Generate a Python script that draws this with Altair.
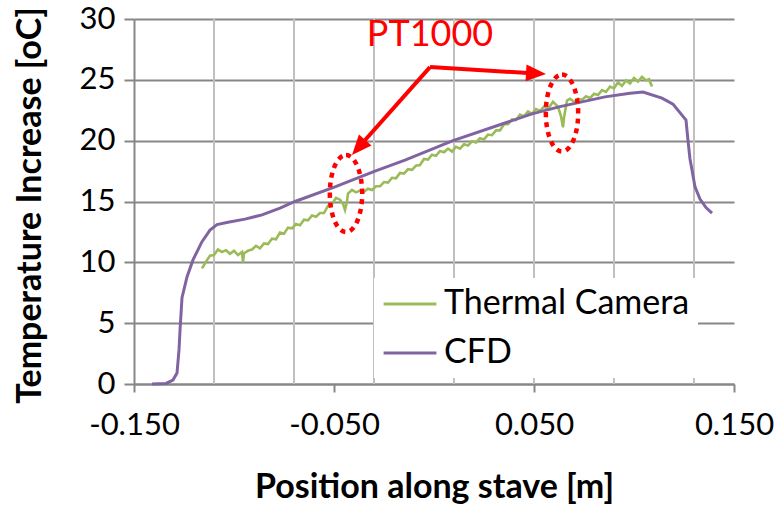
import altair as alt
import pandas as pd

# ---------------- data ----------------
cam_x = [-0.116, -0.114, -0.112, -0.110, -0.108, -0.106, -0.104, -0.102, -0.100, -0.098,
         -0.096, -0.0955, -0.095, -0.093, -0.091, -0.089, -0.087, -0.085, -0.083, -0.081,
         -0.079, -0.077, -0.075, -0.073, -0.071, -0.069, -0.067, -0.065, -0.063, -0.061,
         -0.059, -0.057, -0.055, -0.053, -0.051, -0.049, -0.047, -0.0455, -0.0445, -0.0435,
         -0.043, -0.041, -0.039, -0.037, -0.035, -0.033, -0.031, -0.029, -0.027, -0.025,
         -0.023, -0.021, -0.019, -0.017, -0.015, -0.013, -0.011, -0.009, -0.007, -0.005,
         -0.003, -0.001, 0.001, 0.003, 0.005, 0.007, 0.009, 0.011, 0.013, 0.015,
         0.017, 0.019, 0.021, 0.023, 0.025, 0.027, 0.029, 0.031, 0.033, 0.035,
         0.037, 0.039, 0.041, 0.043, 0.045, 0.047, 0.049, 0.051, 0.053, 0.055,
         0.057, 0.0595, 0.062, 0.0635, 0.0645, 0.065, 0.0665, 0.068, 0.0705, 0.072,
         0.074, 0.076, 0.078, 0.080, 0.082, 0.084, 0.086, 0.088, 0.090, 0.092,
         0.094, 0.096, 0.098, 0.100, 0.102, 0.104, 0.106, 0.1075, 0.109]
cam_y = [9.5, 10.05, 10.55, 10.6, 11.05, 10.85, 11.0, 10.7, 10.95, 10.6,
         10.85, 10.0, 10.75, 10.95, 11.05, 11.35, 11.15, 11.55, 11.5, 11.95,
         11.9, 12.45, 12.35, 12.85, 12.8, 13.15, 13.05, 13.5, 13.45, 13.85,
         13.75, 14.05, 14.05, 14.65, 14.8, 15.3, 15.15, 14.8, 14.3, 15.0,
         15.65, 15.95, 15.75, 15.9, 15.8, 16.05, 15.95, 16.25, 16.25, 16.6,
         16.55, 16.95, 16.9, 17.35, 17.3, 17.65, 17.6, 17.95, 18.0, 18.5,
         18.45, 18.85, 18.75, 19.15, 19.05, 19.35, 19.1, 19.5, 19.35, 19.7,
         19.6, 19.95, 19.85, 20.2, 20.1, 20.5, 20.45, 20.85, 20.85, 21.35,
         21.35, 21.75, 21.7, 22.15, 22.0, 22.4, 22.2, 22.6, 22.45, 22.8,
         22.6, 23.2, 22.8, 22.0, 21.1, 21.9, 23.3, 23.45, 23.15, 23.45,
         23.35, 23.65, 23.5, 23.85, 23.75, 24.15, 24.0, 24.45, 24.3, 24.8,
         24.5, 24.95, 24.7, 25.15, 24.85, 25.25, 24.95, 25.05, 24.45]

cfd_x = [-0.141, -0.134, -0.1305, -0.1285, -0.1275, -0.127, -0.126, -0.1235, -0.1205, -0.116,
         -0.112, -0.1085, -0.103, -0.0945, -0.086, -0.077, -0.0695, -0.0495, -0.0295, -0.0145,
         0.0095, 0.0355, 0.049, 0.063, 0.0855, 0.098, 0.1045, 0.114, 0.1195, 0.126,
         0.127, 0.128, 0.129, 0.1305, 0.133, 0.136, 0.139]
cfd_y = [0.0, 0.05, 0.33, 0.9, 2.8, 4.4, 7.1, 8.8, 10.2, 11.7,
         12.65, 13.1, 13.3, 13.55, 13.9, 14.45, 15.0, 16.2, 17.5, 18.4,
         20.0, 21.45, 22.2, 22.8, 23.6, 23.9, 24.0, 23.5, 23.0, 21.7,
         20.0, 18.5, 17.6, 16.2, 15.2, 14.5, 14.05]

series_names = ["Thermal Camera", "CFD"]
series_colors = ["#9BBB59", "#8064A2"]

x_tick_values = [-0.15, -0.05, 0.05, 0.15]
x_grid_values = [-0.11, -0.07, -0.03, 0.01, 0.05, 0.09, 0.13]
y_tick_values = [0, 5, 10, 15, 20, 25, 30]

# annotations (PT1000 sensors)
note_text = ["PT1000"]
note_x = [-0.002]
note_y = [28.7]
ring_x = [-0.044, 0.064]
ring_y = [15.65, 22.27]
arrow_from_x = [-0.002, -0.002]
arrow_from_y = [26.05, 26.05]
arrow_base_x = [-0.0351, 0.047]
arrow_base_y = [19.93, 25.56]
arrow_tip_x = [-0.041, 0.056]
arrow_tip_y = [18.82, 25.47]
arrow_angle = [221.5, 93.4]

# ---------------- tables ----------------
cam_df = pd.DataFrame({"x": cam_x, "y": cam_y, "series": series_names[0]})
cfd_df = pd.DataFrame({"x": cfd_x, "y": cfd_y, "series": series_names[1]})
grid_df = pd.DataFrame({"x": x_grid_values})
note_df = pd.DataFrame({"x": note_x, "y": note_y, "t": note_text})
ring_df = pd.DataFrame({"x": ring_x, "y": ring_y})
arrow_df = pd.DataFrame({"x": arrow_from_x, "y": arrow_from_y,
                         "x2": arrow_base_x, "y2": arrow_base_y})
head_df = pd.DataFrame({"x": arrow_tip_x, "y": arrow_tip_y, "angle": arrow_angle})

FONT = "Lato"
xscale = alt.Scale(domain=[-0.15, 0.15], nice=False, zero=False)
yscale = alt.Scale(domain=[0, 30], nice=False)

X = alt.X("x:Q", scale=xscale, axis=alt.Axis(
    values=x_tick_values, grid=False, title="Position along stave [m]",
    labelExpr="replace(format(datum.value, '.3f'), '\u2212', '-')",
    labelFlush=False, labelOverlap=False,
    tickSize=8, labelPadding=18, titleY=103, titleBaseline="middle"))
Y = alt.Y("y:Q", scale=yscale, axis=alt.Axis(
    values=y_tick_values, grid=True, title="Temperature Increase [oC]",
    labelFlush=False, labelOverlap=False,
    tickSize=10, labelPadding=9, titleX=-104, titleY=186,
    titleAngle=270, titleBaseline="middle", titleAlign="center"))

LEGEND_LINE = "M-1.6,0 L1.6,0"
color = alt.Color("series:N", scale=alt.Scale(domain=series_names, range=series_colors),
                  legend=alt.Legend(orient="none", legendX=240, legendY=259, title=None,
                                    fillColor="white", padding=8, symbolType=LEGEND_LINE,
                                    symbolSize=1089, symbolStrokeWidth=3, symbolOffset=10,
                                    labelFontSize=34, labelFont=FONT, labelColor="black",
                                    labelLimit=600, labelOffset=16, rowPadding=14))

grid = alt.Chart(grid_df).mark_rule(color="#c0c0c0", strokeWidth=2).encode(x=X)

cam = alt.Chart(cam_df).mark_line(strokeWidth=2.6).encode(x=X, y=Y, color=color)
cfd = alt.Chart(cfd_df).mark_line(strokeWidth=3).encode(x=X, y=Y, color=color)

ELLIPSE = ("M0,-1 C0.232,-1 0.42,-0.552 0.42,0 C0.42,0.552 0.232,1 0,1 "
           "C-0.232,1 -0.42,0.552 -0.42,0 C-0.42,-0.552 -0.232,-1 0,-1 Z")
rings = alt.Chart(ring_df).mark_point(shape=ELLIPSE, size=5929, filled=False, stroke="red",
                                      strokeWidth=4.5, strokeDash=[5, 5], opacity=1
                                      ).encode(x=X, y=Y)

arrows = alt.Chart(arrow_df).mark_rule(color="red", strokeWidth=4).encode(
    x=X, y=Y, x2="x2:Q", y2="y2:Q")

HEAD = "M0,0 L0.42,1 L-0.42,1 Z"
heads = alt.Chart(head_df).mark_point(shape=HEAD, size=1600, filled=True, color="red",
                                      opacity=1, strokeWidth=0).encode(
    x=X, y=Y, angle=alt.Angle("angle:Q", scale=None))

note = alt.Chart(note_df).mark_text(font=FONT, fontSize=36, color="red").encode(
    x=X, y=Y, text="t:N")

chart = alt.layer(grid, cam, cfd, rings, arrows, heads, note).properties(
    width=600, height=365, autosize="none",
    padding={"left": 134, "top": 19, "right": 47, "bottom": 121},
).configure_view(stroke=None).configure_axis(
    labelFont=FONT, labelFontSize=31, labelColor="black",
    titleFont=FONT, titleFontSize=34, titleFontWeight="bold", titleColor="black",
    domainColor="#878787", domainWidth=2, tickColor="#878787", tickWidth=2,
    gridColor="#878787", gridWidth=2,
)

chart.save("out.html", embed_options={"renderer": "svg", "actions": False})
